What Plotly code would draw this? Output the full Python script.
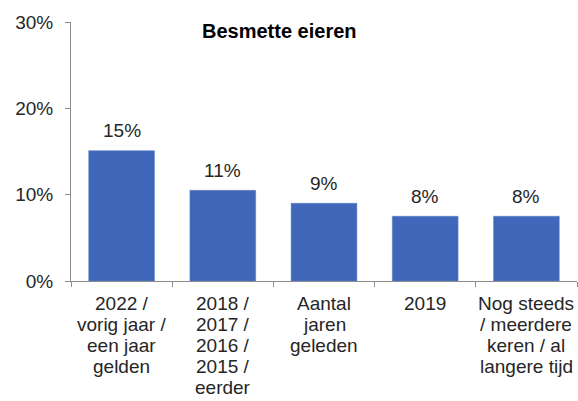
import plotly.graph_objects as go

category_lines = [
    ["2022 /", "vorig jaar /", "een jaar", "gelden"],
    ["2018 /", "2017 /", "2016 /", "2015 /", "eerder"],
    ["Aantal", "jaren", "geleden"],
    ["2019"],
    ["Nog steeds", "/ meerdere", "keren / al", "langere tijd"],
]
categories = [" ".join(lines) for lines in category_lines]
values = [15.1, 10.5, 9.0, 7.5, 7.5]
value_labels = ["15%", "11%", "9%", "8%", "8%"]
y_ticks = [0, 10, 20, 30]
y_tick_labels = ["0%", "10%", "20%", "30%"]
title = "Besmette eieren"

FONT = "Liberation Sans, Arial, sans-serif"
TEXT_COLOR = "#262626"
AXIS_COLOR = "#8c8c8c"
FS = 19
LINE_H = 21

fig = go.Figure(
    go.Bar(
        x=categories,
        y=values,
        marker=dict(color="#4167BA", line=dict(color="#5a7fc8", width=0.5)),
        width=0.65,
        hoverinfo="x+y",
    )
)

annotations = []
# value labels above bars (category axes take the category index)
for idx, (v, lab) in enumerate(zip(values, value_labels)):
    annotations.append(
        dict(
            text=lab,
            x=idx,
            y=v,
            xref="x",
            yref="y",
            xanchor="center",
            yanchor="middle",
            yshift=20,
            showarrow=False,
            font=dict(size=FS, color=TEXT_COLOR, family=FONT),
        )
    )
# multi-line category labels
for idx, lines in enumerate(category_lines):
    for i, line in enumerate(lines):
        annotations.append(
            dict(
                text=line,
                x=idx,
                y=0,
                xref="x",
                yref="paper",
                xanchor="center",
                yanchor="middle",
                yshift=-(22 + LINE_H * i),
                showarrow=False,
                font=dict(size=FS, color=TEXT_COLOR, family=FONT),
            )
        )
# title
annotations.append(
    dict(
        text="<b>" + title + "</b>",
        xref="paper",
        yref="paper",
        x=0.413,
        y=0.966,
        xanchor="center",
        yanchor="middle",
        showarrow=False,
        font=dict(size=20, color="black", family=FONT),
    )
)

fig.update_layout(
    width=578,
    height=401,
    margin=dict(l=71, r=1, t=22, b=120),
    paper_bgcolor="white",
    plot_bgcolor="white",
    font=dict(family=FONT, size=FS, color=TEXT_COLOR),
    showlegend=False,
    xaxis=dict(
        type="category",
        categoryorder="array",
        categoryarray=categories,
        range=[-0.5, len(categories) - 0.5],
        showline=True,
        linecolor=AXIS_COLOR,
        linewidth=1,
        ticks="outside",
        ticklen=5,
        tickcolor=AXIS_COLOR,
        tickson="boundaries",
        showticklabels=False,
        showgrid=False,
        automargin=False,
    ),
    yaxis=dict(
        range=[0, 30],
        tickvals=y_ticks,
        ticktext=y_tick_labels,
        showline=True,
        linecolor=AXIS_COLOR,
        linewidth=1,
        ticks="outside",
        ticklen=5,
        tickcolor=AXIS_COLOR,
        showgrid=False,
        zeroline=False,
        ticklabelstandoff=8,
        tickfont=dict(size=FS, color=TEXT_COLOR, family=FONT),
        automargin=False,
    ),
    annotations=annotations,
)

fig.write_html(
    "out.html",
    config={"displayModeBar": False},
    post_script="document.body.style.margin='0';document.body.style.overflow='hidden';",
)
